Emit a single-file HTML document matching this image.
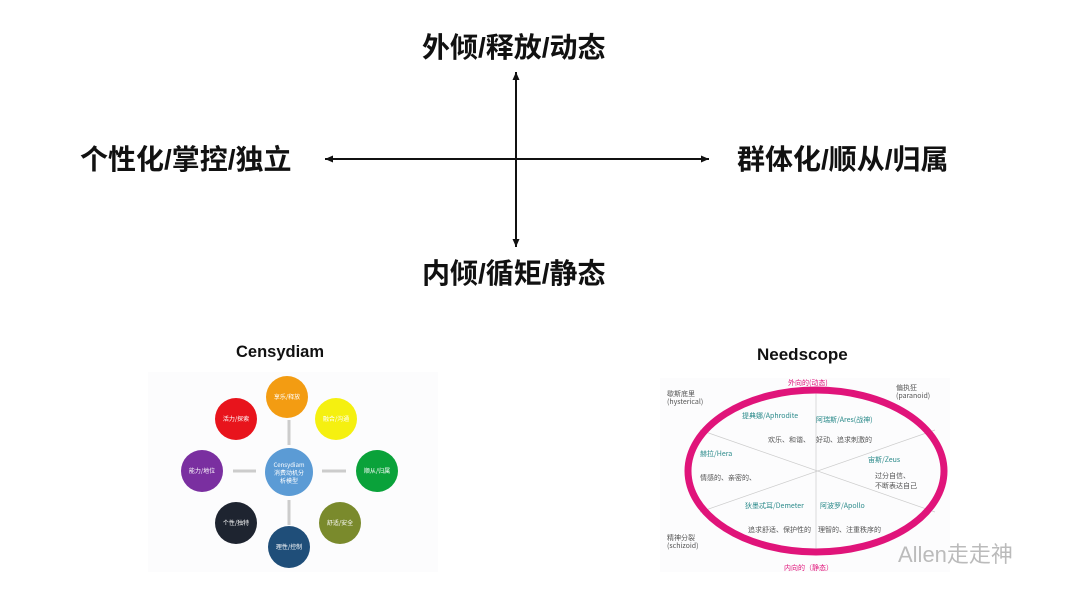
<!DOCTYPE html>
<html><head><meta charset="utf-8"><style>
body{margin:0;width:1080px;height:608px;background:#fff;overflow:hidden;position:relative;font-family:"Liberation Sans","Noto Sans CJK SC",sans-serif}
.l{position:absolute;font-size:28px;font-weight:bold;color:#111;white-space:nowrap;line-height:30px}
</style></head><body>
<svg width="1080" height="608" style="position:absolute;left:0;top:0">
<defs><marker id="a" markerUnits="userSpaceOnUse" markerWidth="8" markerHeight="8" refX="8" refY="4" orient="auto"><path d="M0,0.5 L8,4 L0,7.5 z" fill="#111"/></marker></defs>
<line x1="516" y1="159" x2="516" y2="72" stroke="#111" stroke-width="2" marker-end="url(#a)"/>
<line x1="516" y1="159" x2="516" y2="247" stroke="#111" stroke-width="2" marker-end="url(#a)"/>
<line x1="516" y1="159" x2="325" y2="159" stroke="#111" stroke-width="2" marker-end="url(#a)"/>
<line x1="516" y1="159" x2="709" y2="159" stroke="#111" stroke-width="2" marker-end="url(#a)"/>
<rect x="148" y="372" width="290" height="200" fill="#fcfcfd"/>
<g font-size="6" fill="#fff" text-anchor="middle" font-family="Noto Sans CJK SC,sans-serif">
<line x1="289" y1="420" x2="289" y2="445" stroke="#ccc" stroke-width="3"/>
<line x1="289" y1="500" x2="289" y2="525" stroke="#ccc" stroke-width="3"/>
<line x1="233" y1="471" x2="256" y2="471" stroke="#ccc" stroke-width="3"/>
<line x1="322" y1="471" x2="346" y2="471" stroke="#ccc" stroke-width="3"/>
<circle cx="287" cy="397" r="21" fill="#f39c12"/><text x="287" y="399">享乐/释放</text>
<circle cx="336" cy="419" r="21" fill="#f5f010"/><text x="336" y="421">融合/沟通</text>
<circle cx="236" cy="419" r="21" fill="#e8141c"/><text x="236" y="421">活力/探索</text>
<circle cx="202" cy="471" r="21" fill="#7a2fa0"/><text x="202" y="473">能力/地位</text>
<circle cx="377" cy="471" r="21" fill="#0aa23a"/><text x="377" y="473">顺从/归属</text>
<circle cx="289" cy="472" r="24" fill="#5b9bd5"/><text x="289" y="467">Censydiam</text><text x="289" y="475">消费动机分</text><text x="289" y="483">析模型</text>
<circle cx="236" cy="523" r="21" fill="#1e2430"/><text x="236" y="525">个性/独特</text>
<circle cx="340" cy="523" r="21" fill="#7a8a2c"/><text x="340" y="525">舒适/安全</text>
<circle cx="289" cy="547" r="21" fill="#1f4e79"/><text x="289" y="549">理性/控制</text>
</g>
<rect x="660" y="378" width="290" height="194" fill="#fcfcfd"/>
<g stroke="#ccc" stroke-width="0.7"><line x1="816" y1="392" x2="816" y2="552"/><line x1="700" y1="430" x2="935" y2="512"/><line x1="700" y1="512" x2="935" y2="430"/></g>
<ellipse cx="816" cy="471" rx="128" ry="81" fill="none" stroke="#e0147a" stroke-width="7"/>
<g font-size="7" fill="#555" font-family="Noto Sans CJK SC,sans-serif">
<text x="667" y="396">歇斯底里</text><text x="667" y="404">(hysterical)</text>
<text x="896" y="390">偏执狂</text><text x="896" y="398">(paranoid)</text>
<text x="667" y="540">精神分裂</text><text x="667" y="548">(schizoid)</text>
<text x="788" y="385" fill="#e0147a">外向的(动态)</text>
<text x="784" y="570" fill="#e0147a">内向的（静态）</text>
<text x="742" y="418" fill="#2a8a8a">提典娜/Aphrodite</text>
<text x="816" y="422" fill="#2a8a8a">阿瑞斯/Ares(战神)</text>
<text x="700" y="456" fill="#2a8a8a">赫拉/Hera</text>
<text x="868" y="462" fill="#2a8a8a">宙斯/Zeus</text>
<text x="745" y="508" fill="#2a8a8a">狄墨忒耳/Demeter</text>
<text x="820" y="508" fill="#2a8a8a">阿波罗/Apollo</text>
<text x="768" y="442">欢乐、和谐、</text><text x="816" y="442">好动、追求刺激的</text>
<text x="875" y="478">过分自信、</text><text x="875" y="488">不断表达自己</text>
<text x="700" y="480">情感的、亲密的、</text>
<text x="748" y="532">追求舒适、保护性的</text><text x="818" y="532">理智的、注重秩序的</text>
</g>
<text x="898" y="562" font-size="22" fill="#bbb" font-family="Liberation Sans,sans-serif">Allen走走神</text>
</svg>
<div class="l" style="left:422px;top:33px">外倾/释放/动态</div>
<div class="l" style="left:80px;top:145px">个性化/掌控/独立</div>
<div class="l" style="left:737px;top:145px">群体化/顺从/归属</div>
<div class="l" style="left:422px;top:259px">内倾/循矩/静态</div>
<div class="l" style="left:236px;top:342px;font-size:16.5px;line-height:20px">Censydiam</div>
<div class="l" style="left:757px;top:345px;font-size:17px;line-height:20px">Needscope</div>
</body></html>
